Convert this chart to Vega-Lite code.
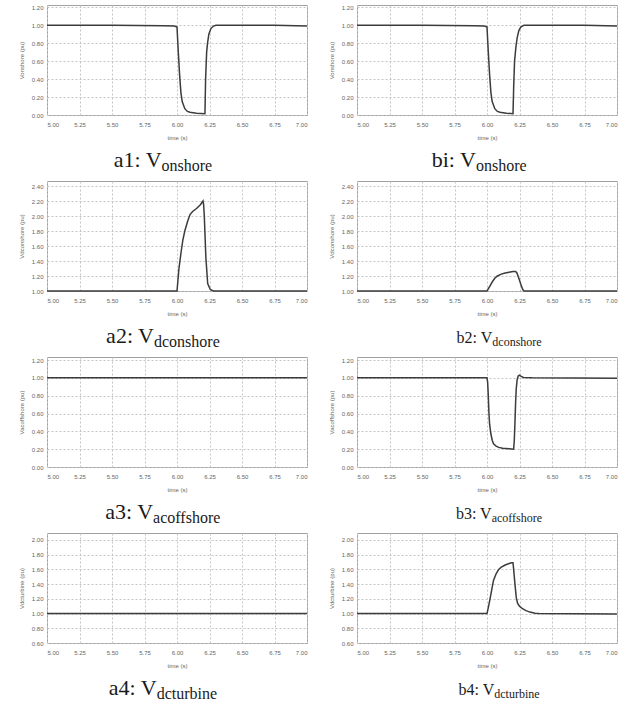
{
  "$schema": "https://vega.github.io/schema/vega-lite/v6.json",
  "background": "white",
  "padding": {"left": 17, "top": 3, "right": 0, "bottom": 0},
  "bounds": "flush",
  "columns": 2,
  "spacing": {"row": 66, "column": 50},
  "config": {
    "view": {"stroke": "#a0a0a0", "strokeWidth": 1},
    "axis": {
      "labelFont": "Liberation Sans", "labelFontSize": 6, "labelColor": "#666666",
      "titleFont": "Liberation Sans", "titleFontSize": 6, "titleFontWeight": "normal", "titleColor": "#666666",
      "gridColor": "#c4c4c4", "gridDash": [2, 2], "gridWidth": 1,
      "domain": false, "ticks": false, "labelOverlap": false, "tickCount": 40
    },
    "axisX": {"titlePadding": 7, "labelPadding": 6},
    "axisY": {"titlePadding": 7, "labelPadding": 4},
    "line": {"color": "#3c3c3c", "strokeWidth": 1.5},
    "text": {"font": "Liberation Serif", "color": "#1a1a1a", "baseline": "alphabetic"}
  },
  "datasets": {
    "a1": [{"t":5.0,"v":1.0},{"t":5.5,"v":1.0},{"t":5.9,"v":0.995},{"t":5.98,"v":0.99},{"t":6.0,"v":0.98},{"t":6.01,"v":0.7},{"t":6.02,"v":0.45},{"t":6.03,"v":0.25},{"t":6.04,"v":0.15},{"t":6.06,"v":0.07},{"t":6.08,"v":0.04},{"t":6.1,"v":0.03},{"t":6.15,"v":0.02},{"t":6.215,"v":0.015},{"t":6.22,"v":0.4},{"t":6.228,"v":0.7},{"t":6.235,"v":0.8},{"t":6.245,"v":0.9},{"t":6.26,"v":0.96},{"t":6.28,"v":0.99},{"t":6.3,"v":1.0},{"t":6.75,"v":1.0},{"t":7.0,"v":0.99}],
    "b1": [{"t":5.0,"v":1.0},{"t":5.5,"v":1.0},{"t":5.9,"v":0.995},{"t":5.98,"v":0.99},{"t":6.0,"v":0.98},{"t":6.01,"v":0.7},{"t":6.02,"v":0.45},{"t":6.03,"v":0.25},{"t":6.04,"v":0.15},{"t":6.06,"v":0.07},{"t":6.08,"v":0.04},{"t":6.1,"v":0.03},{"t":6.15,"v":0.02},{"t":6.2,"v":0.015},{"t":6.205,"v":0.3},{"t":6.212,"v":0.6},{"t":6.222,"v":0.75},{"t":6.232,"v":0.86},{"t":6.245,"v":0.94},{"t":6.26,"v":0.98},{"t":6.285,"v":1.0},{"t":6.75,"v":1.0},{"t":7.0,"v":0.99}],
    "a2": [{"t":5.0,"v":1.0},{"t":6.0,"v":1.0},{"t":6.015,"v":1.3},{"t":6.03,"v":1.5},{"t":6.045,"v":1.68},{"t":6.06,"v":1.8},{"t":6.08,"v":1.92},{"t":6.1,"v":2.02},{"t":6.12,"v":2.06},{"t":6.15,"v":2.1},{"t":6.18,"v":2.15},{"t":6.2,"v":2.2},{"t":6.205,"v":2.15},{"t":6.21,"v":2.0},{"t":6.222,"v":1.45},{"t":6.236,"v":1.1},{"t":6.256,"v":1.02},{"t":6.28,"v":1.0},{"t":7.0,"v":1.0}],
    "b2": [{"t":5.0,"v":1.0},{"t":6.0,"v":1.0},{"t":6.02,"v":1.06},{"t":6.04,"v":1.12},{"t":6.06,"v":1.17},{"t":6.08,"v":1.2},{"t":6.11,"v":1.225},{"t":6.14,"v":1.24},{"t":6.17,"v":1.25},{"t":6.2,"v":1.26},{"t":6.22,"v":1.26},{"t":6.23,"v":1.24},{"t":6.245,"v":1.17},{"t":6.26,"v":1.09},{"t":6.275,"v":1.02},{"t":6.285,"v":1.0},{"t":7.0,"v":1.0}],
    "a3": [{"t":5.0,"v":1.0},{"t":6.0,"v":1.0},{"t":7.0,"v":1.0}],
    "b3": [{"t":5.0,"v":1.0},{"t":6.0,"v":1.0},{"t":6.005,"v":0.95},{"t":6.01,"v":0.8},{"t":6.015,"v":0.6},{"t":6.02,"v":0.48},{"t":6.03,"v":0.37},{"t":6.04,"v":0.3},{"t":6.05,"v":0.26},{"t":6.07,"v":0.235},{"t":6.09,"v":0.22},{"t":6.12,"v":0.21},{"t":6.17,"v":0.205},{"t":6.205,"v":0.2},{"t":6.21,"v":0.3},{"t":6.215,"v":0.5},{"t":6.22,"v":0.72},{"t":6.225,"v":0.88},{"t":6.232,"v":0.98},{"t":6.24,"v":1.02},{"t":6.25,"v":1.03},{"t":6.26,"v":1.02},{"t":6.28,"v":1.005},{"t":6.35,"v":1.0},{"t":7.0,"v":0.995}],
    "a4": [{"t":5.0,"v":1.0},{"t":6.0,"v":1.0},{"t":7.0,"v":1.0}],
    "b4": [{"t":5.0,"v":1.0},{"t":6.0,"v":1.0},{"t":6.01,"v":1.08},{"t":6.02,"v":1.17},{"t":6.03,"v":1.26},{"t":6.04,"v":1.36},{"t":6.05,"v":1.45},{"t":6.07,"v":1.54},{"t":6.09,"v":1.6},{"t":6.11,"v":1.63},{"t":6.14,"v":1.66},{"t":6.17,"v":1.68},{"t":6.19,"v":1.69},{"t":6.2,"v":1.69},{"t":6.205,"v":1.6},{"t":6.215,"v":1.4},{"t":6.225,"v":1.22},{"t":6.235,"v":1.14},{"t":6.25,"v":1.1},{"t":6.27,"v":1.07},{"t":6.3,"v":1.04},{"t":6.33,"v":1.02},{"t":6.37,"v":1.005},{"t":6.4,"v":1.0},{"t":7.0,"v":0.995}]
  },
  "concat": [
    {
      "width": 260, "height": 110,
      "layer": [
        {"data": {"name": "a1"}, "mark": "line",
         "encoding": {
           "x": {"field": "t", "type": "quantitative", "scale": {"domain": [5, 7], "nice": false}, "axis": {"values": [5, 5.25, 5.5, 5.75, 6, 6.25, 6.5, 6.75, 7], "format": ".2f", "title": "time (s)"}},
           "y": {"field": "v", "type": "quantitative", "scale": {"domain": [0, 1.225], "nice": false, "zero": false}, "axis": {"values": [0, 0.2, 0.4, 0.6, 0.8, 1.0, 1.2], "format": ".2f", "title": "Vonshore (pu)"}}}},
        {"data": {"values": [{"main": "a1: V", "sub": "onshore"}]},
         "mark": {"type": "text", "align": "right", "fontSize": 22},
         "encoding": {"text": {"field": "main"}, "x": {"datum": 5.881}, "y": {"datum": -0.579}}},
        {"data": {"values": [{"main": "a1: V", "sub": "onshore"}]},
         "mark": {"type": "text", "align": "left", "fontSize": 16, "dy": 4},
         "encoding": {"text": {"field": "sub"}, "x": {"datum": 5.881}, "y": {"datum": -0.579}}}
      ]
    },
    {
      "width": 260, "height": 110,
      "layer": [
        {"data": {"name": "b1"}, "mark": "line",
         "encoding": {
           "x": {"field": "t", "type": "quantitative", "scale": {"domain": [5, 7], "nice": false}, "axis": {"values": [5, 5.25, 5.5, 5.75, 6, 6.25, 6.5, 6.75, 7], "format": ".2f", "title": "time (s)"}},
           "y": {"field": "v", "type": "quantitative", "scale": {"domain": [0, 1.225], "nice": false, "zero": false}, "axis": {"values": [0, 0.2, 0.4, 0.6, 0.8, 1.0, 1.2], "format": ".2f", "title": "Vonshore (pu)"}}}},
        {"data": {"values": [{"main": "bi: V", "sub": "onshore"}]},
         "mark": {"type": "text", "align": "right", "fontSize": 22},
         "encoding": {"text": {"field": "main"}, "x": {"datum": 5.915}, "y": {"datum": -0.579}}},
        {"data": {"values": [{"main": "bi: V", "sub": "onshore"}]},
         "mark": {"type": "text", "align": "left", "fontSize": 16, "dy": 4},
         "encoding": {"text": {"field": "sub"}, "x": {"datum": 5.915}, "y": {"datum": -0.579}}}
      ]
    },
    {
      "width": 260, "height": 110,
      "layer": [
        {"data": {"name": "a2"}, "mark": "line",
         "encoding": {
           "x": {"field": "t", "type": "quantitative", "scale": {"domain": [5, 7], "nice": false}, "axis": {"values": [5, 5.25, 5.5, 5.75, 6, 6.25, 6.5, 6.75, 7], "format": ".2f", "title": "time (s)"}},
           "y": {"field": "v", "type": "quantitative", "scale": {"domain": [1, 2.467], "nice": false, "zero": false}, "axis": {"values": [1.0, 1.2, 1.4, 1.6, 1.8, 2.0, 2.2, 2.4], "format": ".2f", "title": "Vdconshore (pu)"}}}},
        {"data": {"values": [{"main": "a2: V", "sub": "dconshore"}]},
         "mark": {"type": "text", "align": "right", "fontSize": 22},
         "encoding": {"text": {"field": "main"}, "x": {"datum": 5.823}, "y": {"datum": 0.3065}}},
        {"data": {"values": [{"main": "a2: V", "sub": "dconshore"}]},
         "mark": {"type": "text", "align": "left", "fontSize": 16, "dy": 4},
         "encoding": {"text": {"field": "sub"}, "x": {"datum": 5.823}, "y": {"datum": 0.3065}}}
      ]
    },
    {
      "width": 260, "height": 110,
      "layer": [
        {"data": {"name": "b2"}, "mark": "line",
         "encoding": {
           "x": {"field": "t", "type": "quantitative", "scale": {"domain": [5, 7], "nice": false}, "axis": {"values": [5, 5.25, 5.5, 5.75, 6, 6.25, 6.5, 6.75, 7], "format": ".2f", "title": "time (s)"}},
           "y": {"field": "v", "type": "quantitative", "scale": {"domain": [1, 2.467], "nice": false, "zero": false}, "axis": {"values": [1.0, 1.2, 1.4, 1.6, 1.8, 2.0, 2.2, 2.4], "format": ".2f", "title": "Vdconshore (pu)"}}}},
        {"data": {"values": [{"main": "b2: V", "sub": "dconshore"}]},
         "mark": {"type": "text", "align": "right", "fontSize": 16},
         "encoding": {"text": {"field": "main"}, "x": {"datum": 6.041}, "y": {"datum": 0.3065}}},
        {"data": {"values": [{"main": "b2: V", "sub": "dconshore"}]},
         "mark": {"type": "text", "align": "left", "fontSize": 12, "dy": 3},
         "encoding": {"text": {"field": "sub"}, "x": {"datum": 6.041}, "y": {"datum": 0.3065}}}
      ]
    },
    {
      "width": 260, "height": 110,
      "layer": [
        {"data": {"name": "a3"}, "mark": "line",
         "encoding": {
           "x": {"field": "t", "type": "quantitative", "scale": {"domain": [5, 7], "nice": false}, "axis": {"values": [5, 5.25, 5.5, 5.75, 6, 6.25, 6.5, 6.75, 7], "format": ".2f", "title": "time (s)"}},
           "y": {"field": "v", "type": "quantitative", "scale": {"domain": [0, 1.234], "nice": false, "zero": false}, "axis": {"values": [0, 0.2, 0.4, 0.6, 0.8, 1.0, 1.2], "format": ".2f", "title": "Vacoffshore (pu)"}}}},
        {"data": {"values": [{"main": "a3: V", "sub": "acoffshore"}]},
         "mark": {"type": "text", "align": "right", "fontSize": 22},
         "encoding": {"text": {"field": "main"}, "x": {"datum": 5.816}, "y": {"datum": -0.583}}},
        {"data": {"values": [{"main": "a3: V", "sub": "acoffshore"}]},
         "mark": {"type": "text", "align": "left", "fontSize": 16, "dy": 4},
         "encoding": {"text": {"field": "sub"}, "x": {"datum": 5.816}, "y": {"datum": -0.583}}}
      ]
    },
    {
      "width": 260, "height": 110,
      "layer": [
        {"data": {"name": "b3"}, "mark": "line",
         "encoding": {
           "x": {"field": "t", "type": "quantitative", "scale": {"domain": [5, 7], "nice": false}, "axis": {"values": [5, 5.25, 5.5, 5.75, 6, 6.25, 6.5, 6.75, 7], "format": ".2f", "title": "time (s)"}},
           "y": {"field": "v", "type": "quantitative", "scale": {"domain": [0, 1.234], "nice": false, "zero": false}, "axis": {"values": [0, 0.2, 0.4, 0.6, 0.8, 1.0, 1.2], "format": ".2f", "title": "Vacoffshore (pu)"}}}},
        {"data": {"values": [{"main": "b3: V", "sub": "acoffshore"}]},
         "mark": {"type": "text", "align": "right", "fontSize": 16},
         "encoding": {"text": {"field": "main"}, "x": {"datum": 6.036}, "y": {"datum": -0.583}}},
        {"data": {"values": [{"main": "b3: V", "sub": "acoffshore"}]},
         "mark": {"type": "text", "align": "left", "fontSize": 12, "dy": 3},
         "encoding": {"text": {"field": "sub"}, "x": {"datum": 6.036}, "y": {"datum": -0.583}}}
      ]
    },
    {
      "width": 260, "height": 110,
      "layer": [
        {"data": {"name": "a4"}, "mark": "line",
         "encoding": {
           "x": {"field": "t", "type": "quantitative", "scale": {"domain": [5, 7], "nice": false}, "axis": {"values": [5, 5.25, 5.5, 5.75, 6, 6.25, 6.5, 6.75, 7], "format": ".2f", "title": "time (s)"}},
           "y": {"field": "v", "type": "quantitative", "scale": {"domain": [0.6, 2.095], "nice": false, "zero": false}, "axis": {"values": [0.6, 0.8, 1.0, 1.2, 1.4, 1.6, 1.8, 2.0], "format": ".2f", "title": "Vdcturbine (pu)"}}}},
        {"data": {"values": [{"main": "a4: V", "sub": "dcturbine"}]},
         "mark": {"type": "text", "align": "right", "fontSize": 22},
         "encoding": {"text": {"field": "main"}, "x": {"datum": 5.844}, "y": {"datum": -0.107}}},
        {"data": {"values": [{"main": "a4: V", "sub": "dcturbine"}]},
         "mark": {"type": "text", "align": "left", "fontSize": 16, "dy": 4},
         "encoding": {"text": {"field": "sub"}, "x": {"datum": 5.844}, "y": {"datum": -0.107}}}
      ]
    },
    {
      "width": 260, "height": 110,
      "layer": [
        {"data": {"name": "b4"}, "mark": "line",
         "encoding": {
           "x": {"field": "t", "type": "quantitative", "scale": {"domain": [5, 7], "nice": false}, "axis": {"values": [5, 5.25, 5.5, 5.75, 6, 6.25, 6.5, 6.75, 7], "format": ".2f", "title": "time (s)"}},
           "y": {"field": "v", "type": "quantitative", "scale": {"domain": [0.6, 2.095], "nice": false, "zero": false}, "axis": {"values": [0.6, 0.8, 1.0, 1.2, 1.4, 1.6, 1.8, 2.0], "format": ".2f", "title": "Vdcturbine (pu)"}}}},
        {"data": {"values": [{"main": "b4: V", "sub": "dcturbine"}]},
         "mark": {"type": "text", "align": "right", "fontSize": 16},
         "encoding": {"text": {"field": "main"}, "x": {"datum": 6.056}, "y": {"datum": -0.107}}},
        {"data": {"values": [{"main": "b4: V", "sub": "dcturbine"}]},
         "mark": {"type": "text", "align": "left", "fontSize": 12, "dy": 3},
         "encoding": {"text": {"field": "sub"}, "x": {"datum": 6.056}, "y": {"datum": -0.107}}}
      ]
    }
  ]
}
